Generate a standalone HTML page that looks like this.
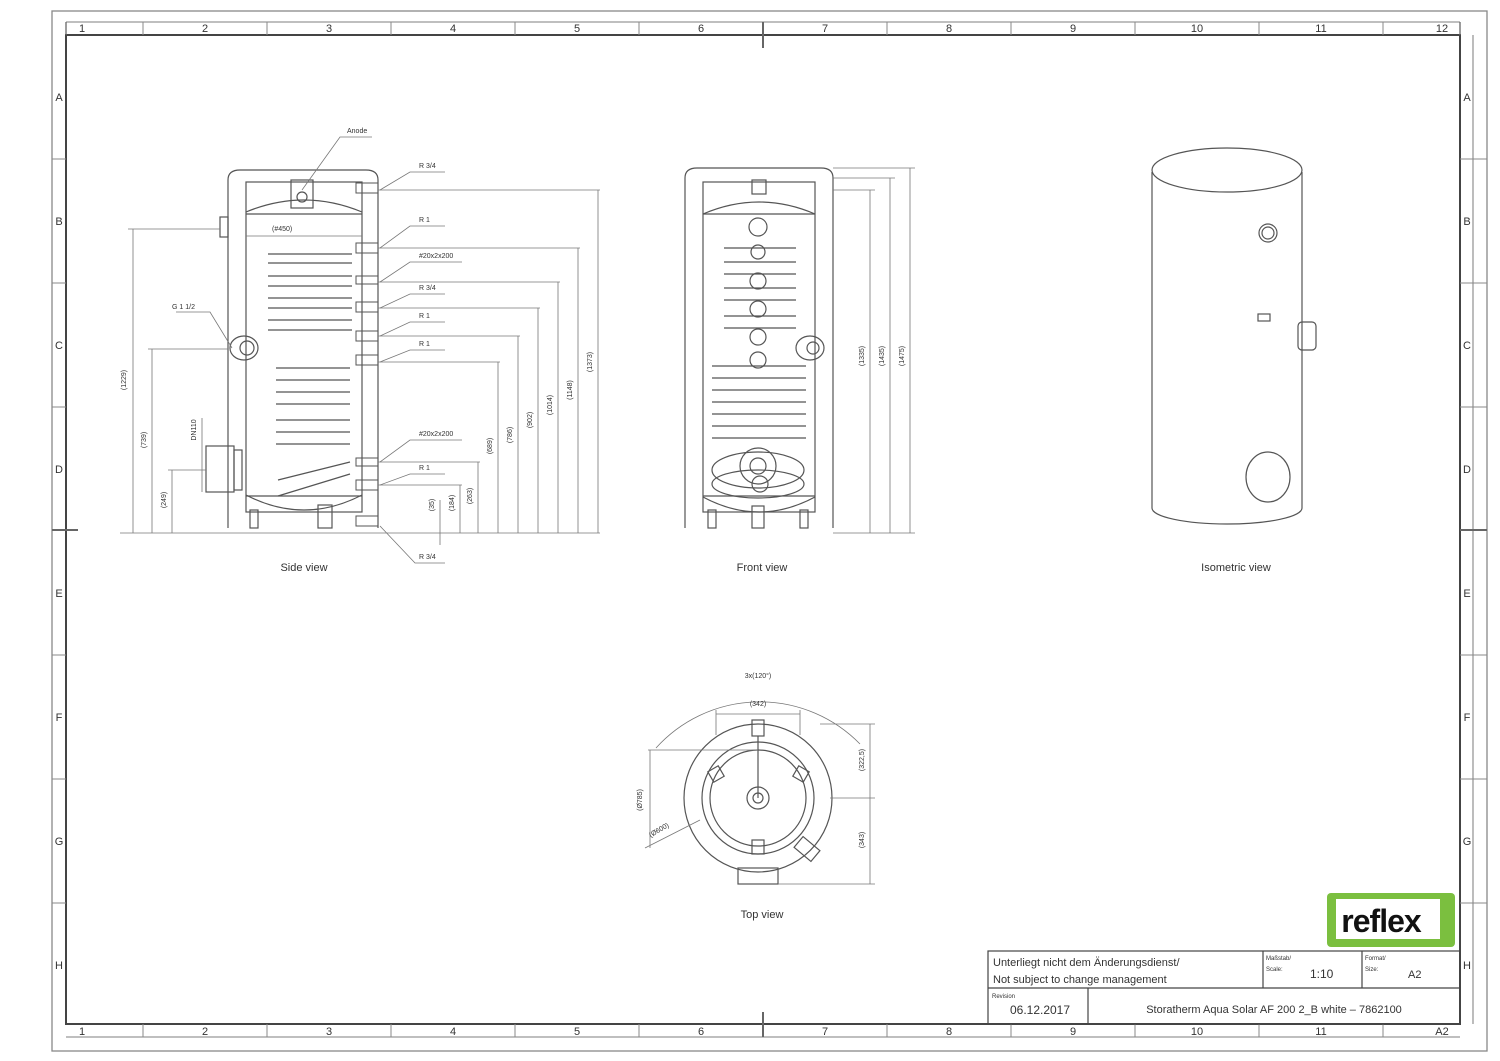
<!DOCTYPE html>
<html><head><meta charset="utf-8"><style>
body{margin:0;background:#fff}
svg{display:block}
text{font-family:"Liberation Sans",sans-serif;fill:#333}
</style></head><body>
<svg width="1500" height="1061" viewBox="0 0 1500 1061" xmlns="http://www.w3.org/2000/svg">
<rect width="1500" height="1061" fill="#fff"/>
<g fill="none" stroke="#666" stroke-width="1.3">
<rect x="52" y="11" width="1435" height="1040" stroke="#888"/>
<rect x="66" y="35" width="1394" height="989" stroke-width="2" stroke="#444"/>
<line x1="66" y1="22" x2="1460" y2="22" stroke="#999"/>
<line x1="66" y1="1037" x2="1460" y2="1037" stroke="#999"/>
<line x1="1473" y1="35" x2="1473" y2="1024" stroke="#999"/>
<line x1="66" y1="22" x2="66" y2="35"/><line x1="1460" y1="22" x2="1460" y2="35"/>
<line x1="763" y1="22" x2="763" y2="48" stroke-width="2"/>
<line x1="763" y1="1012" x2="763" y2="1037" stroke-width="2"/>
<line x1="52" y1="530" x2="78" y2="530" stroke-width="2"/>
<line x1="1460" y1="530" x2="1487" y2="530" stroke-width="2"/>
</g>
<g stroke="#888" stroke-width="1">
<line x1="143" y1="22" x2="143" y2="35"/><line x1="267" y1="22" x2="267" y2="35"/><line x1="391" y1="22" x2="391" y2="35"/><line x1="515" y1="22" x2="515" y2="35"/><line x1="639" y1="22" x2="639" y2="35"/><line x1="887" y1="22" x2="887" y2="35"/><line x1="1011" y1="22" x2="1011" y2="35"/><line x1="1135" y1="22" x2="1135" y2="35"/><line x1="1259" y1="22" x2="1259" y2="35"/><line x1="1383" y1="22" x2="1383" y2="35"/>
<line x1="143" y1="1024" x2="143" y2="1037"/><line x1="267" y1="1024" x2="267" y2="1037"/><line x1="391" y1="1024" x2="391" y2="1037"/><line x1="515" y1="1024" x2="515" y2="1037"/><line x1="639" y1="1024" x2="639" y2="1037"/><line x1="887" y1="1024" x2="887" y2="1037"/><line x1="1011" y1="1024" x2="1011" y2="1037"/><line x1="1135" y1="1024" x2="1135" y2="1037"/><line x1="1259" y1="1024" x2="1259" y2="1037"/><line x1="1383" y1="1024" x2="1383" y2="1037"/>
<line x1="52" y1="159" x2="66" y2="159"/><line x1="52" y1="283" x2="66" y2="283"/><line x1="52" y1="407" x2="66" y2="407"/><line x1="52" y1="655" x2="66" y2="655"/><line x1="52" y1="779" x2="66" y2="779"/><line x1="52" y1="903" x2="66" y2="903"/>
<line x1="1460" y1="159" x2="1487" y2="159"/><line x1="1460" y1="283" x2="1487" y2="283"/><line x1="1460" y1="407" x2="1487" y2="407"/><line x1="1460" y1="655" x2="1487" y2="655"/><line x1="1460" y1="779" x2="1487" y2="779"/><line x1="1460" y1="903" x2="1487" y2="903"/>
</g>
<g font-size="11" fill="#777" text-anchor="middle">
<text x="82" y="32">1</text><text x="205" y="32">2</text><text x="329" y="32">3</text><text x="453" y="32">4</text><text x="577" y="32">5</text><text x="701" y="32">6</text><text x="825" y="32">7</text><text x="949" y="32">8</text><text x="1073" y="32">9</text><text x="1197" y="32">10</text><text x="1321" y="32">11</text><text x="1442" y="32">12</text>
<text x="82" y="1035">1</text><text x="205" y="1035">2</text><text x="329" y="1035">3</text><text x="453" y="1035">4</text><text x="577" y="1035">5</text><text x="701" y="1035">6</text><text x="825" y="1035">7</text><text x="949" y="1035">8</text><text x="1073" y="1035">9</text><text x="1197" y="1035">10</text><text x="1321" y="1035">11</text><text x="1442" y="1035">A2</text>
<text x="59" y="101">A</text><text x="59" y="225">B</text><text x="59" y="349">C</text><text x="59" y="473">D</text><text x="59" y="597">E</text><text x="59" y="721">F</text><text x="59" y="845">G</text><text x="59" y="969">H</text>
<text x="1467" y="101">A</text><text x="1467" y="225">B</text><text x="1467" y="349">C</text><text x="1467" y="473">D</text><text x="1467" y="597">E</text><text x="1467" y="721">F</text><text x="1467" y="845">G</text><text x="1467" y="969">H</text>
</g>

<!-- SIDE VIEW -->
<g fill="none" stroke="#555" stroke-width="1.2">
<path d="M228 528 V180 Q228 170 240 170 H366 Q378 170 378 180 V528"/>
<rect x="246" y="182" width="116" height="330"/>
<path d="M246 212 Q304 188 362 212"/>
<path d="M246 495 Q304 525 362 495"/>
<line x1="246" y1="214" x2="362" y2="214"/><line x1="246" y1="496" x2="362" y2="496"/>
<rect x="291" y="180" width="22" height="28"/><circle cx="302" cy="197" r="5"/>
<rect x="220" y="217" width="8" height="20"/>
<ellipse cx="244" cy="348" rx="14" ry="12"/><circle cx="247" cy="348" r="7"/>
<rect x="206" y="446" width="28" height="46"/><rect x="234" y="450" width="8" height="40"/>
<rect x="250" y="510" width="8" height="18"/><rect x="318" y="505" width="14" height="23"/>
<path d="M268 254 H352 M268 263 H352 M268 276 H352 M268 286 H352 M268 298 H352 M268 308 H352 M268 320 H352 M268 330 H352 M276 368 H350 M276 380 H350 M276 392 H350 M276 404 H350 M276 420 H350 M276 432 H350 M276 444 H350 M278 480 L350 462 M278 496 L350 474"/>
<g stroke-width="1"><rect x="356" y="183" width="22" height="10"/><rect x="356" y="243" width="22" height="10"/><rect x="356" y="276" width="22" height="8"/><rect x="356" y="302" width="22" height="10"/><rect x="356" y="331" width="22" height="10"/><rect x="356" y="355" width="22" height="10"/><rect x="356" y="458" width="22" height="8"/><rect x="356" y="480" width="22" height="10"/><rect x="356" y="516" width="22" height="10"/></g>
</g>
<g fill="none" stroke="#777" stroke-width="0.8">
<line x1="120" y1="533" x2="600" y2="533"/>
<line x1="133" y1="229" x2="133" y2="533"/><line x1="128" y1="229" x2="220" y2="229"/>
<line x1="152" y1="349" x2="152" y2="533"/><line x1="148" y1="349" x2="228" y2="349"/>
<line x1="172" y1="470" x2="172" y2="533"/><line x1="168" y1="470" x2="206" y2="470"/>
<line x1="202" y1="418" x2="202" y2="492"/>
<line x1="378" y1="190" x2="600" y2="190"/><line x1="598" y1="190" x2="598" y2="533"/>
<line x1="378" y1="248" x2="580" y2="248"/><line x1="578" y1="248" x2="578" y2="533"/>
<line x1="378" y1="282" x2="560" y2="282"/><line x1="558" y1="282" x2="558" y2="533"/>
<line x1="378" y1="308" x2="540" y2="308"/><line x1="538" y1="308" x2="538" y2="533"/>
<line x1="378" y1="336" x2="520" y2="336"/><line x1="518" y1="336" x2="518" y2="533"/>
<line x1="378" y1="362" x2="500" y2="362"/><line x1="498" y1="362" x2="498" y2="533"/>
<line x1="378" y1="462" x2="480" y2="462"/><line x1="478" y1="462" x2="478" y2="533"/>
<line x1="378" y1="485" x2="462" y2="485"/><line x1="460" y1="485" x2="460" y2="533"/>
<line x1="440" y1="500" x2="440" y2="545"/>
<line x1="246" y1="236" x2="362" y2="236"/>
<path d="M302 190 L340 137 H372 M380 190 L410 172 H445 M380 248 L410 226 H445 M380 282 L410 262 H462 M380 308 L410 294 H445 M380 336 L410 322 H445 M380 362 L410 350 H445 M380 462 L410 440 H462 M380 485 L410 474 H445 M380 526 L415 563 H445 M232 348 L210 312 H176"/>
</g>
<g font-size="7" fill="#444">
<text x="347" y="133">Anode</text><text x="419" y="168">R 3/4</text><text x="419" y="222">R 1</text><text x="419" y="258">#20x2x200</text><text x="419" y="290">R 3/4</text><text x="419" y="318">R 1</text><text x="419" y="346">R 1</text><text x="419" y="436">#20x2x200</text><text x="419" y="470">R 1</text><text x="419" y="559">R 3/4</text><text x="172" y="309">G 1 1/2</text><text x="272" y="231">(#450)</text>
<text transform="translate(126 380) rotate(-90)" text-anchor="middle">(1229)</text>
<text transform="translate(146 440) rotate(-90)" text-anchor="middle">(739)</text>
<text transform="translate(166 500) rotate(-90)" text-anchor="middle">(249)</text>
<text transform="translate(196 430) rotate(-90)" text-anchor="middle">DN110</text>
<text transform="translate(592 362) rotate(-90)" text-anchor="middle">(1373)</text>
<text transform="translate(572 390) rotate(-90)" text-anchor="middle">(1148)</text>
<text transform="translate(552 405) rotate(-90)" text-anchor="middle">(1014)</text>
<text transform="translate(532 420) rotate(-90)" text-anchor="middle">(902)</text>
<text transform="translate(512 435) rotate(-90)" text-anchor="middle">(786)</text>
<text transform="translate(492 446) rotate(-90)" text-anchor="middle">(689)</text>
<text transform="translate(472 496) rotate(-90)" text-anchor="middle">(263)</text>
<text transform="translate(454 503) rotate(-90)" text-anchor="middle">(184)</text>
<text transform="translate(434 505) rotate(-90)" text-anchor="middle">(35)</text>
</g>
<text x="304" y="571" font-size="11" text-anchor="middle">Side  view</text>

<!-- FRONT VIEW -->
<g fill="none" stroke="#555" stroke-width="1.2">
<path d="M685 528 V178 Q685 168 697 168 H821 Q833 168 833 178 V528"/>
<rect x="703" y="182" width="112" height="330"/>
<path d="M703 214 Q759 190 815 214"/><path d="M703 497 Q759 527 815 497"/>
<line x1="703" y1="214" x2="815" y2="214"/><line x1="703" y1="496" x2="815" y2="496"/>
<rect x="752" y="180" width="14" height="14"/>
<circle cx="758" cy="227" r="9"/><circle cx="758" cy="252" r="7"/><circle cx="758" cy="281" r="8"/><circle cx="758" cy="309" r="8"/><circle cx="758" cy="337" r="8"/><circle cx="758" cy="360" r="8"/>
<path d="M724 248 H796 M724 262 H796 M724 274 H796 M724 288 H796 M724 300 H796 M724 316 H796 M724 328 H796 M712 366 H806 M712 378 H806 M712 390 H806 M712 402 H806 M712 414 H806 M712 426 H806 M712 438 H806"/>
<ellipse cx="758" cy="470" rx="46" ry="18"/><ellipse cx="758" cy="484" rx="46" ry="14"/>
<circle cx="758" cy="466" r="18"/><circle cx="758" cy="466" r="8"/><circle cx="760" cy="484" r="8"/>
<ellipse cx="810" cy="348" rx="14" ry="12"/><circle cx="813" cy="348" r="6"/>
<rect x="708" y="510" width="8" height="18"/><rect x="800" y="510" width="8" height="18"/><rect x="752" y="506" width="12" height="22"/>
</g>
<g fill="none" stroke="#777" stroke-width="0.8">
<line x1="833" y1="168" x2="915" y2="168"/><line x1="910" y1="168" x2="910" y2="533"/>
<line x1="833" y1="178" x2="895" y2="178"/><line x1="890" y1="178" x2="890" y2="533"/>
<line x1="833" y1="190" x2="875" y2="190"/><line x1="870" y1="190" x2="870" y2="533"/>
<line x1="833" y1="533" x2="915" y2="533"/>
</g>
<g font-size="7" fill="#444">
<text transform="translate(864 356) rotate(-90)" text-anchor="middle">(1335)</text>
<text transform="translate(884 356) rotate(-90)" text-anchor="middle">(1435)</text>
<text transform="translate(904 356) rotate(-90)" text-anchor="middle">(1475)</text>
</g>
<text x="762" y="571" font-size="11" text-anchor="middle">Front  view</text>

<!-- ISOMETRIC -->
<g fill="none" stroke="#555" stroke-width="1.2">
<path d="M1152 172 V508 A75 16 0 0 0 1302 508 V172"/>
<ellipse cx="1227" cy="170" rx="75" ry="22"/>
<circle cx="1268" cy="233" r="9"/><circle cx="1268" cy="233" r="6"/>
<rect x="1258" y="314" width="12" height="7"/>
<rect x="1298" y="322" width="18" height="28" rx="4"/>
<ellipse cx="1268" cy="477" rx="22" ry="25"/>
</g>
<text x="1236" y="571" font-size="11" text-anchor="middle">Isometric  view</text>

<!-- TOP VIEW -->
<g fill="none" stroke="#555" stroke-width="1.2">
<circle cx="758" cy="798" r="74"/>
<circle cx="758" cy="798" r="56"/><circle cx="758" cy="798" r="48"/>
<circle cx="758" cy="798" r="11"/><circle cx="758" cy="798" r="5"/>
<rect x="752" y="720" width="12" height="16"/>
<rect x="710" y="768" width="12" height="12" transform="rotate(-30 716 774)"/>
<rect x="795" y="768" width="12" height="12" transform="rotate(30 801 774)"/>
<rect x="738" y="868" width="40" height="16"/><rect x="752" y="840" width="12" height="14"/>
<rect x="800" y="838" width="14" height="22" transform="rotate(-50 807 849)"/>
<path d="M758 736 V798"/>
</g>
<g fill="none" stroke="#777" stroke-width="0.8">
<path d="M656 748 A140 140 0 0 1 860 744"/>
<line x1="716" y1="714" x2="800" y2="714"/><line x1="716" y1="710" x2="716" y2="735"/><line x1="800" y1="710" x2="800" y2="735"/>
<line x1="650" y1="750" x2="650" y2="848"/><line x1="648" y1="750" x2="758" y2="750"/>
<line x1="645" y1="848" x2="700" y2="820"/>
<line x1="870" y1="724" x2="870" y2="884"/><line x1="820" y1="724" x2="875" y2="724"/><line x1="830" y1="798" x2="875" y2="798"/><line x1="778" y1="884" x2="875" y2="884"/>
</g>
<g font-size="7" fill="#444">
<text x="758" y="678" text-anchor="middle">3x(120°)</text>
<text x="758" y="706" text-anchor="middle">(342)</text>
<text transform="translate(642 800) rotate(-90)" text-anchor="middle">(Ø785)</text>
<text transform="translate(660 832) rotate(-30)" text-anchor="middle">(Ø600)</text>
<text transform="translate(864 760) rotate(-90)" text-anchor="middle">(322,5)</text>
<text transform="translate(864 840) rotate(-90)" text-anchor="middle">(343)</text>
</g>
<text x="762" y="918" font-size="11" text-anchor="middle">Top  view</text>

<!-- LOGO -->
<rect x="1327" y="893" width="128" height="54" rx="4" fill="#7bbf3f"/>
<rect x="1336" y="899" width="104" height="40" fill="#fff"/>
<text x="1381" y="932" font-size="32" font-weight="bold" text-anchor="middle" style="fill:#111;letter-spacing:-1px">reflex</text>

<!-- TITLE BLOCK -->
<g fill="none" stroke="#444" stroke-width="1.2">
<rect x="988" y="951" width="472" height="73"/>
<line x1="988" y1="988" x2="1460" y2="988"/>
<line x1="1263" y1="951" x2="1263" y2="988"/><line x1="1362" y1="951" x2="1362" y2="988"/>
<line x1="1088" y1="988" x2="1088" y2="1024"/>
</g>
<g fill="#444">
<text x="993" y="966" font-size="11">Unterliegt  nicht  dem  Änderungsdienst/</text>
<text x="993" y="983" font-size="11">Not  subject  to  change  management</text>
<text x="1266" y="960" font-size="6">Maßstab/</text><text x="1266" y="971" font-size="6">Scale:</text>
<text x="1310" y="978" font-size="12">1:10</text>
<text x="1365" y="960" font-size="6">Format/</text><text x="1365" y="971" font-size="6">Size:</text>
<text x="1408" y="978" font-size="11">A2</text>
<text x="992" y="998" font-size="6">Revision</text>
<text x="1040" y="1014" font-size="12" text-anchor="middle">06.12.2017</text>
<text x="1274" y="1013" font-size="11" text-anchor="middle">Storatherm  Aqua  Solar  AF  200  2_B  white  –  7862100</text>
</g>
</svg>
</body></html>
